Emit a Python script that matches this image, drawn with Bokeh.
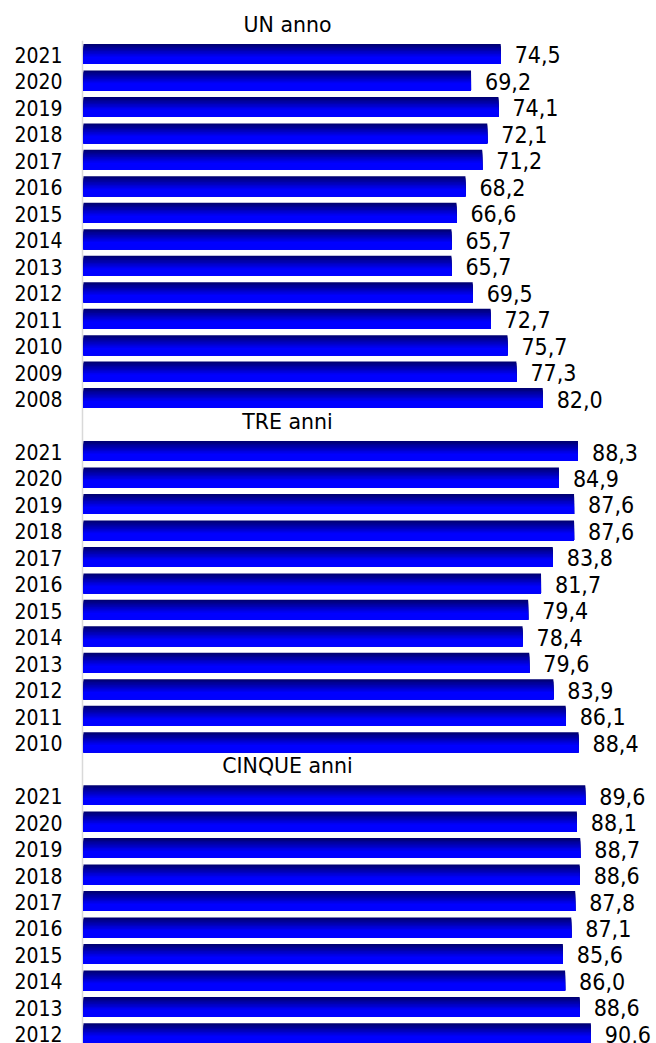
from bokeh.plotting import figure
from bokeh.models import Range1d, ColumnDataSource
from bokeh.core.properties import value
from bokeh.embed import file_html
from bokeh.resources import INLINE

# ---- data ----
section_titles = ["UN anno", "TRE anni", "CINQUE anni"]
un_years = ["2021", "2020", "2019", "2018", "2017", "2016", "2015", "2014", "2013", "2012", "2011", "2010", "2009", "2008"]
un_values = [74.5, 69.2, 74.1, 72.1, 71.2, 68.2, 66.6, 65.7, 65.7, 69.5, 72.7, 75.7, 77.3, 82.0]
tre_years = ["2021", "2020", "2019", "2018", "2017", "2016", "2015", "2014", "2013", "2012", "2011", "2010"]
tre_values = [88.3, 84.9, 87.6, 87.6, 83.8, 81.7, 79.4, 78.4, 79.6, 83.9, 86.1, 88.4]
cinque_years = ["2021", "2020", "2019", "2018", "2017", "2016", "2015", "2014", "2013", "2012"]
cinque_values = [89.6, 88.1, 88.7, 88.6, 87.8, 87.1, 85.6, 86.0, 88.6, 90.6]

sections = [(section_titles[0], un_years, un_values),
            (section_titles[1], tre_years, tre_values),
            (section_titles[2], cinque_years, cinque_values)]

# ---- build row layout (one slot per title and per bar) ----
bar_slots, bar_vals, bar_years = [], [], []
title_slots, title_texts = [], []
slot = 0
for title, yrs, vals in sections:
    title_slots.append(slot)
    title_texts.append(title)
    slot += 1
    for y, v in zip(yrs, vals):
        bar_slots.append(slot)
        bar_vals.append(v)
        bar_years.append(y)
        slot += 1

W, H = 656, 1043
PX_PER_UNIT = 5.6
X0_PX = 83.0
SLOT_PX = 26.47
SLOT0_PX = 27.0

p = figure(width=W, height=H, output_backend="svg", toolbar_location=None,
           x_range=Range1d(-X0_PX / PX_PER_UNIT, (W - X0_PX) / PX_PER_UNIT),
           y_range=Range1d((H - SLOT0_PX) / SLOT_PX, -SLOT0_PX / SLOT_PX),
           min_border=0, min_border_left=0, min_border_right=0,
           min_border_top=0, min_border_bottom=0)
p.xaxis.visible = False
p.yaxis.visible = False
p.xgrid.visible = False
p.ygrid.visible = False
p.outline_line_color = None
p.background_fill_color = "white"
p.border_fill_color = "white"

# axis line
p.segment(x0=[-0.18], y0=[0.5], x1=[-0.18], y1=[slot + 2], line_color="#d9d9d9", line_width=1.5)

# gradient bars: overlapping strips, from dark navy at top to bright blue
BAR_H = 0.755
N = 14
for i in range(N):
    t = i / (N - 1)
    f = min(1.0, t / 0.68)
    b = int(round(115 + (255 - 115) * f))
    color = "#%02x%02x%02x" % (0, 0, b)
    top_off = -BAR_H / 2 + i * BAR_H / N
    bottom_off = BAR_H / 2
    ys = [s + (top_off + bottom_off) / 2 for s in bar_slots]
    p.hbar(y=ys, left=0, right=bar_vals, height=bottom_off - top_off,
           fill_color=color, line_color=None)

src = ColumnDataSource(dict(
    y=bar_slots, v=bar_vals, yr=bar_years,
    lab=[("%.1f" % v).replace(".", ",") for v in bar_vals],
    zero=[0] * len(bar_slots)))

p.text(x="zero", y="y", text="yr", source=src, x_offset=-21, y_offset=1,
       text_align="right", text_baseline="middle",
       text_font=value("DejaVu Sans Condensed"), text_font_size="21px", text_color="#000000")

p.text(x="v", y="y", text="lab", source=src, x_offset=14, y_offset=1,
       text_align="left", text_baseline="middle",
       text_font=value("DejaVu Sans Condensed"), text_font_size="23px", text_color="#000000")

p.text(x=[(287 - X0_PX) / PX_PER_UNIT] * len(title_slots), y=title_slots, text=title_texts,
       y_offset=-3, text_align="center", text_baseline="middle",
       text_font=value("DejaVu Sans"), text_font_size="20.5px", text_color="#000000")

open("out.html", "w").write(file_html(p, INLINE))
